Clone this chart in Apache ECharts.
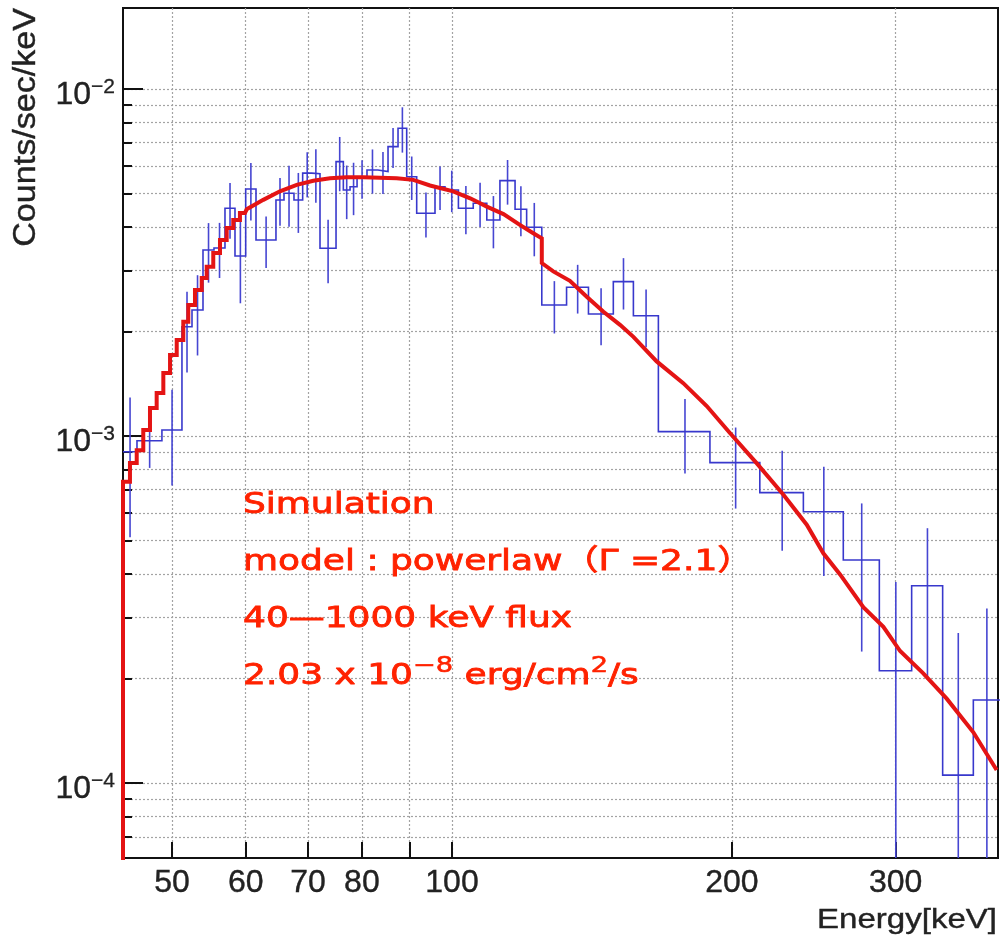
<!DOCTYPE html>
<html><head><meta charset="utf-8">
<script src="https://cdn.jsdelivr.net/npm/echarts@6/dist/echarts.min.js"></script>
<style>html,body{margin:0;padding:0;background:#fff}#c{width:1000px;height:935px}</style>
</head><body><div id="c"></div>
<script>
// ---- measured data (blue: observed spectrum histogram) ----
const binEdges = [44.28, 45.84, 48.76, 51.24, 52.53, 53.98, 55.47, 57.00, 58.43, 60.00, 61.55, 64.67, 65.97, 67.62, 69.09, 70.65, 72.12, 75.04, 76.41, 77.69, 79.05, 81.02, 83.23, 85.35, 87.49, 89.39, 91.63, 95.88, 98.28, 101.6, 105.4, 109.0, 112.6, 116.9, 120.3, 124.9, 132.8, 140.2, 149.1, 156.7, 166.7, 189.4, 214.3, 238.7, 263.5, 288.1, 312.1, 337.0, 363.6, 388.4];
const counts = [9.01e-4, 9.69e-4, 1.040e-3, 2.065e-3, 2.306e-3, 3.436e-3, 3.482e-3, 4.532e-3, 3.302e-3, 5.149e-3, 3.670e-3, 4.787e-3, 5.005e-3, 4.787e-3, 5.72e-3, 5.70e-3, 3.475e-3, 6.172e-3, 5.115e-3, 5.228e-3, 5.528e-3, 5.843e-3, 5.777e-3, 6.820e-3, 7.704e-3, 5.587e-3, 4.384e-3, 5.228e-3, 5.115e-3, 4.532e-3, 4.683e-3, 4.193e-3, 5.441e-3, 4.502e-3, 3.994e-3, 2.384e-3, 2.683e-3, 2.246e-3, 2.784e-3, 2.221e-3, 1.029e-3, 8.377e-4, 6.866e-4, 6.050e-4, 4.392e-4, 2.107e-4, 3.703e-4, 1.054e-4, 1.735e-4];
const countErrors = [3.9e-4, 1.6e-4, 3.2e-4, 5.4e-4, 6.0e-4, 6.7e-4, 6.3e-4, 8.3e-4, 8.9e-4, 9.7e-4, 6.2e-4, 7.5e-4, 1.0e-3, 9.4e-4, 8.5e-4, 1.0e-3, 7.2e-4, 1.1e-3, 9.0e-4, 9.0e-4, 7.0e-4, 8.5e-4, 8.0e-4, 9.0e-4, 1.15e-3, 8.0e-4, 6.5e-4, 7.5e-4, 7.0e-4, 7.2e-4, 6.8e-4, 7.2e-4, 8.0e-4, 7.4e-4, 7.0e-4, 4.1e-4, 4.3e-4, 4.2e-4, 4.7e-4, 4.2e-4, 2.5e-4, 2.2e-4, 2.2e-4, 2.1e-4, 2.0e-4, 1.69e-4, 1.72e-4, 1.65e-4, 1.45e-4];

// ---- simulated model (red) ----
const modelStepEdges = [44.28, 45.05, 45.81, 46.56, 47.34, 48.13, 48.93, 49.75, 50.58, 51.41, 52.05, 52.92, 53.81, 54.48, 55.37, 56.30, 57.24, 58.18, 59.15, 59.89];
const modelStepValues = [7.38e-4, 8.36e-4, 9.10e-4, 1.04e-3, 1.204e-3, 1.33e-3, 1.519e-3, 1.712e-3, 1.891e-3, 2.135e-3, 2.384e-3, 2.633e-3, 2.853e-3, 3.075e-3, 3.368e-3, 3.670e-3, 3.975e-3, 4.193e-3, 4.393e-3];
const modelCurveEnergy = [60.15, 62.67, 65.31, 68.08, 70.94, 73.93, 77.05, 80.28, 83.66, 87.20, 90.87, 94.70, 100.3, 104.6, 109.0, 113.6, 118.3, 122.3, 124.9, 124.9, 128.5, 133.9, 139.6, 145.5, 151.6, 156.7, 166.0, 177.3, 187.9, 199.0, 212.6, 227.2, 240.7, 250.8, 261.4, 276.9, 291.0, 303.3, 321.2, 340.4, 363.6, 385.2];
const modelCurveValues = [4.50e-3, 4.79e-3, 5.07e-3, 5.29e-3, 5.44e-3, 5.53e-3, 5.57e-3, 5.57e-3, 5.55e-3, 5.53e-3, 5.47e-3, 5.27e-3, 5.07e-3, 4.84e-3, 4.58e-3, 4.36e-3, 4.06e-3, 3.84e-3, 3.71e-3, 3.15e-3, 2.98e-3, 2.80e-3, 2.52e-3, 2.28e-3, 2.09e-3, 1.93e-3, 1.64e-3, 1.42e-3, 1.22e-3, 1.02e-3, 8.35e-4, 6.77e-4, 5.55e-4, 4.59e-4, 3.99e-4, 3.21e-4, 2.82e-4, 2.40e-4, 2.07e-4, 1.75e-4, 1.40e-4, 1.09e-4];

// ---- axes ----
const xMin = 44.28, xMax = 386.5;
const yMin = 6.08e-5, yMax = 0.01711;
const xTickValues = [50, 60, 70, 80, 90, 100, 200, 300];
const xLabelValues = [50, 60, 70, 80, 100, 200, 300];
const yTickValues = [7e-5, 8e-5, 9e-5, 1e-4, 2e-4, 3e-4, 4e-4, 5e-4, 6e-4, 7e-4, 8e-4, 9e-4, 1e-3, 2e-3, 3e-3, 4e-3, 5e-3, 6e-3, 7e-3, 8e-3, 9e-3, 1e-2];
const yDecades = [1e-4, 1e-3, 1e-2];
const xTitle = 'Energy[keV]';
const yTitle = 'Counts/sec/keV';
const annotationLines = ['Simulation', 'model : powerlaw（Γ =2.1）', '40—1000 keV flux'];
const fluxLine = ['2.03 x 10', '−8', ' erg/cm', '2', '/s'];

// ---- build series data ----
const histData = [];
for (let i = 0; i < counts.length; i++) {
  histData.push([binEdges[i], counts[i]]);
  histData.push([binEdges[i + 1], counts[i]]);
}
const errData = counts.map((v, i) => [(binEdges[i] + binEdges[i + 1]) / 2, v, countErrors[i]]);
const modelData = [[modelStepEdges[0], 1e-9]];
for (let i = 0; i < modelStepValues.length; i++) {
  modelData.push([modelStepEdges[i], modelStepValues[i]]);
  modelData.push([modelStepEdges[i + 1], modelStepValues[i]]);
}
for (let i = 0; i < modelCurveEnergy.length; i++) modelData.push([modelCurveEnergy[i], modelCurveValues[i]]);

const AX = '#111';
const GRIDC = '#a3a3a3';
const txt = '#222';
const annoColor = '#ff2200';
const annoFont = '"DejaVu Sans", "Noto Sans CJK JP"';

const chart = echarts.init(document.getElementById('c'), null, {renderer: 'canvas'});
chart.setOption({
  animation: false,
  backgroundColor: '#fff',
  grid: {left: 123, right: 2, top: 8, bottom: 77, show: true, borderColor: AX, borderWidth: 2, containLabel: false, outerBoundsMode: 'none'},
  xAxis: [{
    type: 'log', logBase: 10, min: xMin, max: xMax,
    axisLine: {show: true, onZero: false, lineStyle: {color: AX, width: 2}},
    axisTick: {show: true, inside: true, length: 16, customValues: xTickValues, lineStyle: {color: AX, width: 2}},
    axisLabel: {customValues: xLabelValues, margin: 9, fontFamily: 'Liberation Sans', fontSize: 32, color: txt,
      textBorderColor: txt, textBorderWidth: 0.4,
      formatter: v => String(Math.round(v))},
    splitLine: {show: true, lineStyle: {color: GRIDC, type: [2, 2], width: 1.2}},
    minorTick: {show: false}, minorSplitLine: {show: false}
  }],
  yAxis: [{
    type: 'log', logBase: 10, min: yMin, max: yMax,
    axisLine: {show: true, onZero: false, lineStyle: {color: AX, width: 2}},
    axisTick: {show: true, inside: true, length: 9, customValues: yTickValues, lineStyle: {color: AX, width: 2}},
    axisLabel: {customValues: yDecades, margin: 8, padding: [12, 0, 0, 0],
      formatter: v => '{b|10}{s|−' + Math.abs(Math.round(Math.log10(v))) + '}',
      rich: {
        b: {fontFamily: 'Liberation Sans', fontSize: 32, lineHeight: 36, color: txt, textBorderColor: txt, textBorderWidth: 0.4},
        s: {fontFamily: 'Liberation Sans', fontSize: 21, lineHeight: 22, color: txt, verticalAlign: 'top', textBorderColor: txt, textBorderWidth: 0.3}
      }},
    splitLine: {show: true, lineStyle: {color: GRIDC, type: [2, 2], width: 1.2}},
    minorTick: {show: false}, minorSplitLine: {show: false}
  }, {
    type: 'log', logBase: 10, min: yMin, max: yMax, position: 'left', offset: 0,
    axisLine: {show: false}, axisLabel: {show: false}, splitLine: {show: false},
    axisTick: {show: true, inside: true, length: 20, customValues: yDecades, lineStyle: {color: AX, width: 2}}
  }],
  series: [
    {
      name: 'data', type: 'line', xAxisIndex: 0, yAxisIndex: 0, data: histData, showSymbol: false, symbol: 'none',
      clip: true, z: 2, lineStyle: {color: '#3838cc', width: 1.6, join: 'miter'}
    },
    {
      name: 'errors', type: 'custom', xAxisIndex: 0, yAxisIndex: 0, data: errData, clip: true, z: 2,
      encode: {x: 0, y: 1},
      renderItem: (params, api) => {
        const x = api.value(0), v = api.value(1), e = api.value(2);
        const p1 = api.coord([x, v + e]);
        const p2 = api.coord([x, Math.max(v - e, 1e-9)]);
        return {type: 'line', shape: {x1: p1[0], y1: p1[1], x2: p2[0], y2: p2[1]},
          style: {stroke: '#4646d2', lineWidth: 1.6}};
      }
    },
    {
      name: 'model', type: 'line', xAxisIndex: 0, yAxisIndex: 0, data: modelData, showSymbol: false, symbol: 'none',
      clip: true, z: 3, lineStyle: {color: '#e41414', width: 4, join: 'miter'}
    }
  ],
  graphic: [
    {type: 'text', x: 11, y: 8, rotation: Math.PI / 2, scaleX: 1.1, z: 10,
      style: {text: yTitle, font: '31px "Liberation Sans"', fill: txt, align: 'right', verticalAlign: 'top',
        stroke: txt, lineWidth: 0.4}},
    {type: 'text', x: 997, y: 934, scaleX: 1.18, z: 10,
      style: {text: xTitle, font: '28px "Liberation Sans"', fill: txt, align: 'right', verticalAlign: 'bottom',
        stroke: txt, lineWidth: 0.4}},
    {type: 'text', x: 243, y: 477, scaleX: 1.24, z: 10,
      style: {
        text: annotationLines.map(l => '{t|' + l + '}').join('\n') + '\n' +
          '{t|' + fluxLine[0] + '}{s|' + fluxLine[1] + '}{t|' + fluxLine[2] + '}{s|' + fluxLine[3] + '}{t|' + fluxLine[4] + '}',
        align: 'left', verticalAlign: 'top',
        rich: {
          t: {fontFamily: annoFont, fontSize: 29, lineHeight: 57, fill: annoColor, stroke: annoColor, lineWidth: 0.8},
          s: {fontFamily: annoFont, fontSize: 22, lineHeight: 46, fill: annoColor, verticalAlign: 'top',
            padding: [7, 0, 0, 0], stroke: annoColor, lineWidth: 0.6}
        }
      }}
  ]
});
</script>
</body></html>
